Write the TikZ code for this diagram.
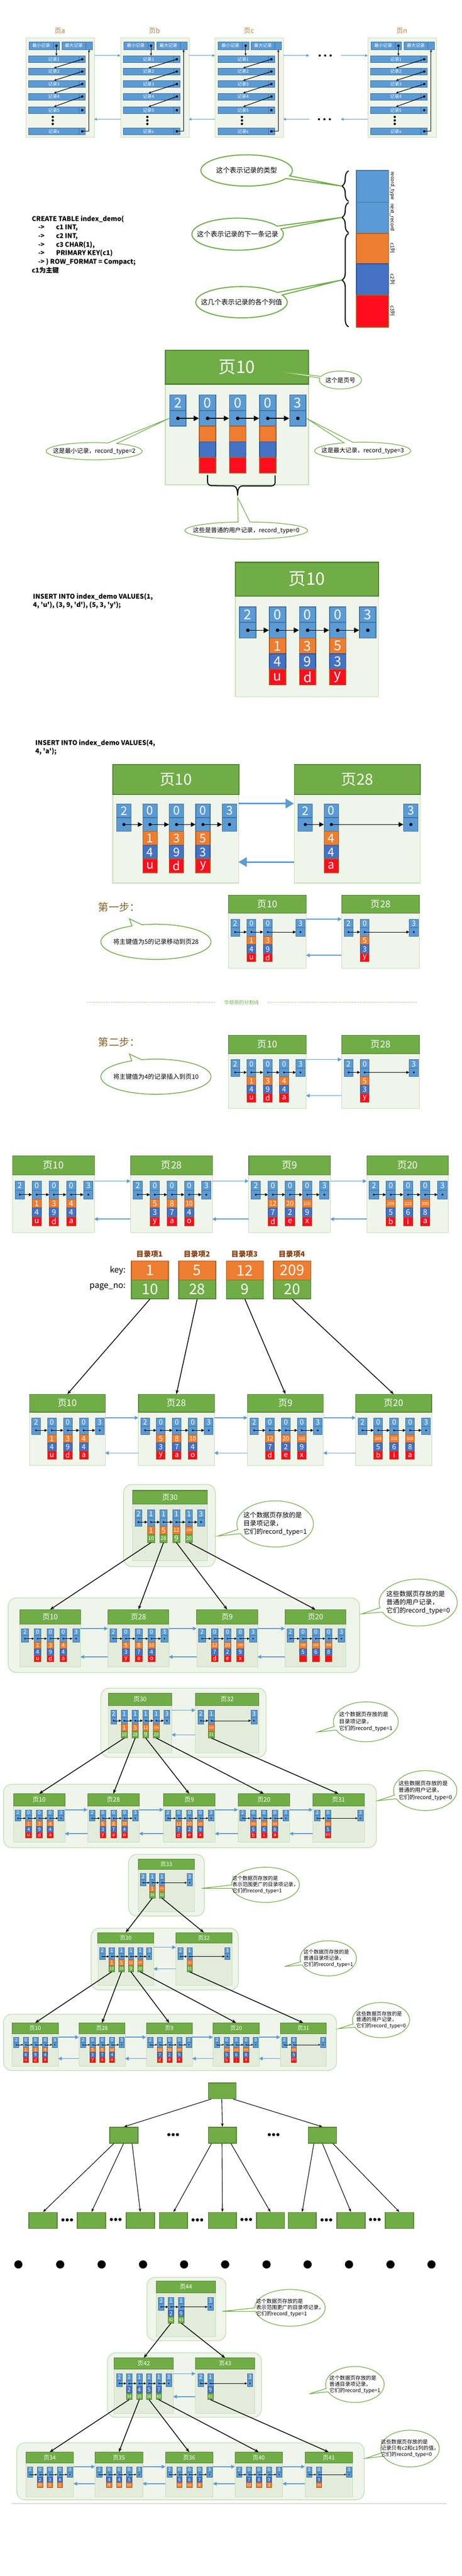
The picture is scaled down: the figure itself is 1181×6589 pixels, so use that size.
\documentclass[tikz,border=0pt]{standalone}
\usepackage{fontspec}
\setmainfont{Noto Sans CJK SC}
\usepackage{graphicx}
\usetikzlibrary{arrows.meta}
\usetikzlibrary{calc}
\usetikzlibrary{shapes.geometric, shapes.callouts}
\usetikzlibrary{decorations.pathreplacing}

\definecolor{pgreen}{HTML}{70AD47}
\definecolor{pgreendark}{HTML}{548235}
\definecolor{pbody}{HTML}{EFF5EA}
\definecolor{pbodyin}{HTML}{E3ECDB}
\definecolor{pborder}{HTML}{C5DFB4}
\definecolor{lblue}{HTML}{5B9BD5}
\definecolor{lbluedark}{HTML}{41719C}
\definecolor{orng}{HTML}{ED7D31}
\definecolor{orngdark}{HTML}{AE5A21}
\definecolor{dblue}{HTML}{4472C4}
\definecolor{dbluedark}{HTML}{2F528F}
\definecolor{rred}{HTML}{FF0D1D}
\definecolor{titlebrown}{HTML}{B07F45}
\definecolor{stepbrown}{HTML}{85642A}
\definecolor{dirbrown}{HTML}{843C0C}

\newsavebox{\cellbox}
\newcommand{\cellmax}{24pt}

\tikzset{
every picture/.style={line width=0.8pt, >=stealth},
%%%%%%%%%%  page styles
pagehead/.style={fill=pgreen, draw=pgreendark, text=white, inner sep=0,
                 minimum width=274.5pt, font=\fontsize{33}{33}\selectfont},
pagebody/.style={fill=pbody, draw=pborder, inner sep=0, minimum width=274.5pt},
inbox/.style={pagebody/.append style={fill=pbodyin}},
container/.style={fill=pbody, draw=pborder, line width=1.4pt, rounded corners=16pt},
smalltitle/.style={pagehead/.append style={font=\fontsize{27}{27}\selectfont}},
%%%%%%%%%%  record cells
cell/.style={anchor=north west, inner sep=0, minimum width=31.5pt, minimum height=30pt,
             text=white, font=\fontsize{26}{26}\selectfont, line width=1.6pt*\pgsc,
             execute at begin node={\setbox\cellbox=\hbox\bgroup},
             execute at end node={\egroup\ifdim\wd\cellbox>\cellmax
               \resizebox{\cellmax}{!}{\usebox\cellbox}\else\usebox\cellbox\fi}},
cA/.style={cell, fill=lblue, draw=lbluedark},
cO/.style={cell, fill=orng, draw=orngdark},
cB/.style={cell, fill=dblue, draw=dbluedark},
cR/.style={cell, fill=rred, draw=orngdark},
cG/.style={cell, fill=pgreen, draw=pgreendark},
narrow/.code={\tikzset{cell/.append style={minimum width=26pt}}\def\cellmax{21pt}},
ybot/.store in=\ybot,
leaf/.style={d1/.style=cO, d2/.style=cB, d3/.style=cR, ybot=198},
leafb/.style={d1/.style=cB, d2/.style=cO, ybot=159},
dir/.style={d1/.style=cO, d2/.style=cG, ybot=170, narrow, smalltitle},
dirb/.style={d1/.style=cB, d2/.style=cG, ybot=170, narrow, smalltitle},
ptr/.style={line width=\plw pt, -{Triangle[length=\ptl pt, width=\ptl pt]}},
%%%%%%%%%%  links between pages
plink/.style={draw=lblue, line width=1.5pt, -{Triangle[length=7pt, width=7pt]}},
plinkbig/.style={draw=lblue, line width=3pt, -{Triangle[length=16pt, width=18pt]}},
plinkthin/.style={draw=lblue, line width=1.1pt, -{Triangle[length=5pt, width=5pt]}},
treeln/.style={line width=1.5pt, -{Stealth[length=8pt, width=6pt]}},
treelnthin/.style={line width=1.1pt, -{Stealth[length=7pt, width=5pt]}},
%%%%%%%%%%  first picture (pages a..n)
pagelabel/.style={text=titlebrown, inner sep=0, font=\fontsize{13}{13}\selectfont},
recframe/.style={fill=pbody, draw=pborder, line width=0.8pt, anchor=north west,
                 minimum width=131.25pt, minimum height=190.5pt, inner sep=0},
recbox/.style={fill=lblue, draw=lbluedark, line width=0.6pt, anchor=north west, inner sep=0,
               minimum height=12.75pt, text=white, font=\fontsize{8.5}{8.5}\selectfont},
recarrow/.style={line width=1.1pt, -{Stealth[length=5pt, width=4pt]}},
%%%%%%%%%%  texts, callouts
sqltext/.style={anchor=north west, align=left, inner sep=0,
                font=\bfseries\fontsize{12.5}{16.5}\selectfont},
bubble/.style={ellipse callout, draw=pgreen, fill=white, line width=1.2pt, inner sep=0,
               callout pointer arc=11},
bubbletext/.style={align=left, inner sep=0},
bracestyle/.style={decorate, decoration={brace, amplitude=#1}, line width=2pt},
bracestyle/.default=13pt,
barcell/.style={anchor=north west, inner sep=0, minimum width=61.5pt, line width=1.6pt},
steptext/.style={text=stepbrown, inner sep=0, font=\fontsize{20}{20}\selectfont},
dirlabel/.style={text=dirbrown, inner sep=0, font=\bfseries\fontsize{14}{14}\selectfont},
keybox/.style={fill=orng, draw=orngdark, line width=1.5pt, anchor=north west, inner sep=0,
               minimum width=71.25pt, minimum height=36.75pt, text=white,
               font=\fontsize{28}{28}\selectfont},
nobox/.style={keybox, fill=pgreen, draw=pgreendark, minimum height=36pt},
absbox/.style={fill=pgreen, draw=pgreendark, line width=1.5pt, anchor=north west,
               inner sep=0, minimum width=54pt, minimum height=30.75pt}
}

%% a page with a header and a row of records
%% #1 name, #2 x, #3 y, #4 scale, #5 title, #6 header height, #7 kind, #8 columns
\newcommand{\pagebox}[8]{%
\begin{scope}[shift={(#2,#3)}, scale=#4, transform shape, #7]
  \def\pgsc{#4}
  \pgfmathsetmacro\plw{1.5*#4}
  \pgfmathsetmacro\ptl{10*#4}
  \pgfmathsetmacro\rowy{#6+28}
  \node[pagebody, anchor=north west, minimum height={(344-#6)*0.75pt},
        line width=1.6pt*\pgsc] (#1) at (0,#6) {};
  \node[pagehead, anchor=north west, minimum height={#6*0.75pt},
        line width=2.2pt*\pgsc] (#1-h) at (0,0) {#5};
  \edef\reclist{#8}
  \foreach \cx/\cn/\va/\vb/\vc [count=\i] in \reclist {
    \node[cA] (#1-n\i) at (\cx,\rowy) {\cn};
    \node[cA] (#1-p\i) at (\cx,\rowy+40) {};
    \fill (#1-p\i.center) circle (4.5);
    \if-\va\else\node[d1] (#1-d\i-1) at (\cx,\rowy+80) {\va};\fi
    \if-\vb\else\node[d2] (#1-d\i-2) at (\cx,\rowy+120) {\vb};\fi
    \if-\vc\else\node[d3] (#1-d\i-3) at (\cx,\rowy+160) {\vc};\fi
    \ifnum\i>1
      \pgfmathtruncatemacro\j{\i-1}
      \draw[ptr] (#1-p\j.center) -- (#1-p\i.west);
    \fi
  }
  \coordinate (#1-la) at (0,\rowy);
  \coordinate (#1-ra) at (366,\rowy);
  \coordinate (#1-lb) at (0,#6+\ybot);
  \coordinate (#1-rb) at (366,#6+\ybot);
\end{scope}}

%% a page of the first picture: #1 name, #2 x, #3 label
\newcommand{\recpage}[3]{%
  \node[pagelabel] (#1-t) at (#2+87,79) {#3};
  \node[recframe] (#1) at (#2,96) {};
  \node[recbox, minimum width=46.5pt, minimum height=14.25pt] (#1-m) at (#2+8,107) {最小记录};
  \node[recbox, minimum width=12pt, minimum height=14.25pt] (#1-ms) at (#2+70,107) {};
  \node[recbox, minimum width=45.75pt, minimum height=14.25pt] (#1-M) at (#2+92,107) {最大记录};
  \node[recbox, minimum width=12.75pt, minimum height=14.25pt] (#1-Ms) at (#2+153,107) {};
  \foreach \ry/\rl [count=\i] in {142.6/记录1, 174/记录2, 206/记录3, 238/记录4, 273/记录5, 327/记录x} {
    \node[recbox, minimum width=96.75pt] (#1-r\i) at (#2+7,\ry) {\rl};
    \node[recbox, minimum width=12pt] (#1-s\i) at (#2+136,\ry) {};
    \fill (#1-s\i.center) circle (3);
  }
  \fill (#1-ms.center) circle (3);
  \draw[recarrow] (#1-ms.center) -- (#1-ms.center |- #1-r1.north);
  \foreach \i in {1,...,4} {
    \pgfmathtruncatemacro\j{\i+1}
    \draw[recarrow] (#1-s\i.center) -- (#1-r\j.north);
  }
  \draw[recarrow] (#1-s6.center) -| (#1-Ms.south);
  \foreach \ry in {299,308,317} \fill (#2+69,\ry) circle (3);
  \coordinate (#1-la) at (#2,142);
  \coordinate (#1-ra) at (#2+175,142);
  \coordinate (#1-lb) at (#2,305);
  \coordinate (#1-rb) at (#2+175,305);
}

%% callout: #1 name, #2 #3 centre, #4 #5 size, #6 pointer, #7 font, #8 style, #9 text
\newcommand{\bubble}[9]{%
  \node[bubble, minimum width={#4*0.75pt}, minimum height={#5*0.75pt},
        callout absolute pointer={#6}, #8] (#1) at (#2,#3) {};
  \node[bubbletext, font=#7] (#1-t) at (#1.center) {#9};
}

\begin{document}
\begin{tikzpicture}[x=0.75pt, y=-0.75pt]
\fill[white] (0,0) rectangle (1181,6589);
\useasboundingbox (0,0) rectangle (1181,6589);
\def\recA{11/2/-/-/-, 87/0/1/4/u, 164/0/3/9/d, 241/0/4/4/a, 318/3/-/-/-}
\def\recB{11/2/-/-/-, 87/0/5/3/y, 164/0/8/7/a, 241/0/10/4/o, 318/3/-/-/-}
\def\recC{11/2/-/-/-, 87/0/12/7/d, 164/0/20/2/e, 241/0/100/9/x, 318/3/-/-/-}
\def\recD{11/2/-/-/-, 87/0/209/5/b, 164/0/220/6/i, 241/0/300/8/a, 318/3/-/-/-}
\def\recE{11/2/-/-/-, 87/0/209/5/\relax, 164/0/220/6/\relax, 241/0/300/8/\relax, 318/3/-/-/-}
\def\recF{11/2/-/-/-, 87/0/320/5/m, 318/3/-/-/-}
%%%%%%%%%%%%%%%%%%%%%%%%%%%%%%%%%%%%%%%%%%%%%%%%%%%%%%%
%% pages a, b, c, ..., n
\recpage{pa}{66}{页a}
\recpage{pb}{308}{页b}
\recpage{pc}{550}{页c}
\recpage{pn}{941}{页n}
\coordinate (gapr1) at (791,142);
\coordinate (gapr2) at (872,142);
\coordinate (gapl1) at (792,305);
\coordinate (gapl2) at (872,305);
\draw[plinkthin] (pa-ra) -- (pb-la);
\draw[plinkthin] (pb-ra) -- (pc-la);
\draw[plinkthin] (pc-ra) -- (gapr1);
\draw[plinkthin] (gapr2) -- (pn-la);
\draw[plinkthin] (pb-lb) -- (pa-rb);
\draw[plinkthin] (pc-lb) -- (pb-rb);
\draw[plinkthin] (gapl1) -- (pc-rb);
\draw[plinkthin] (pn-lb) -- (gapl2);
\foreach \x in {818,832,846} \fill (\x,142) circle (2.8);
\foreach \x in {816,830,844} \fill (\x,305) circle (2.8);
%%%%%%%%%%%%%%%%%%%%%%%%%%%%%%%%%%%%%%%%%%%%%%%%%%%%%%%
%% one record
\node[barcell, fill=lblue, draw=lbluedark, minimum height=60.75pt] (rb1) at (911,435) {};
\node[barcell, fill=lblue, draw=lbluedark, minimum height=60pt] (rb2) at (911,516) {};
\node[barcell, fill=orng, draw=orngdark, minimum height=58.5pt] (rb3) at (911,596) {};
\node[barcell, fill=dblue, draw=dbluedark, minimum height=60pt] (rb4) at (911,674) {};
\node[barcell, fill=rred, draw=orngdark, minimum height=61.5pt] (rb5) at (911,754) {};
\foreach \t/\y [count=\i] in {record\_type/475, next\_record/556, c1列/634, c2列/714, c3列/795}
  \node[rotate=-90, inner sep=0, font=\fontsize{9.5}{9.5}\selectfont] (rl\i) at (1004,\y) {\t};
\draw[bracestyle] (892,515) -- (892,437);
\draw[bracestyle] (892,595) -- (892,518);
\draw[bracestyle] (892,836) -- (892,597);
\coordinate (br1) at (875,476);
\coordinate (br2) at (875,556);
\coordinate (br3) at (875,716);
\bubble{cb1}{631}{436}{234}{80}{(br1)}{\fontsize{13}{13}\selectfont}{line width=2pt}{这个表示记录的类型}
\bubble{cb2}{608}{599}{234}{82}{(br2)}{\fontsize{13}{13}\selectfont}{line width=2pt}{这个表示记录的下一条记录}
\bubble{cb3}{618}{773}{234}{80}{(br3)}{\fontsize{13}{13}\selectfont}{line width=2pt}{这几个表示记录的各个列值}
\node[sqltext] (sql) at (81,551) {CREATE TABLE index\_demo(\\
\hspace*{12pt}->\hspace*{22pt}c1 INT,\\
\hspace*{12pt}->\hspace*{22pt}c2 INT,\\
\hspace*{12pt}->\hspace*{22pt}c3 CHAR(1),\\
\hspace*{12pt}->\hspace*{22pt}PRIMARY KEY(c1)\\
\hspace*{12pt}-> ) ROW\_FORMAT = Compact;\\
c1为主键};
%%%%%%%%%%%%%%%%%%%%%%%%%%%%%%%%%%%%%%%%%%%%%%%%%%%%%%%
%% page 10, empty
\pagebox{a10}{422}{895}{1}{页10}{86}{leaf}{11/2/-/-/-, 87/0/\relax/\relax/\relax, 164/0/\relax/\relax/\relax, 241/0/\relax/\relax/\relax, 318/3/-/-/-}
%% bracket under the user records
\draw[line width=2pt] (a10-d2-3.south) ++(0,4) -- ++(0,18)
  to[out=-90,in=180] ++(10,9) -- (596,1243) to[out=0,in=90] (608,1268)
  to[out=90,in=180] (620,1243) -- (694,1243) to[out=0,in=-90] ++(10,-9)
  -- ++(0,-18);
\coordinate (ubr) at (608,1272);
\bubble{cpg}{871}{972}{108}{46}{($(a10-h.center)+(50,3)$)}{\fontsize{11.5}{11.5}\selectfont}{}{这个是页号}
\bubble{cmin}{241}{1154}{246}{44}{(a10-p1.west)}{\fontsize{11.5}{11.5}\selectfont}{}{这是最小记录，record\_type=2}
\bubble{cmax}{928}{1153}{246}{44}{(a10-p5.east)}{\fontsize{11.5}{11.5}\selectfont}{}{这是最大记录，record\_type=3}
\bubble{cusr}{630}{1357}{314}{44}{(ubr)}{\fontsize{11.5}{11.5}\selectfont}{}{这些是普通的用户记录，record\_type=0}
%%%%%%%%%%%%%%%%%%%%%%%%%%%%%%%%%%%%%%%%%%%%%%%%%%%%%%%
%% insert three records
\node[sqltext] (ins1) at (84,1517) {INSERT INTO index\_demo VALUES(1,\\
4, \textquotesingle u\textquotesingle), (3, 9, \textquotesingle d\textquotesingle), (5, 3, \textquotesingle y\textquotesingle);};
\pagebox{b10}{601}{1437}{1}{页10}{86}{leaf}{11/2/-/-/-, 87/0/1/4/u, 164/0/3/9/d, 241/0/5/3/y, 318/3/-/-/-}
%%%%%%%%%%%%%%%%%%%%%%%%%%%%%%%%%%%%%%%%%%%%%%%%%%%%%%%
%% insert one more record, page 28
\node[sqltext] (ins2) at (90,1891) {INSERT INTO index\_demo VALUES(4,\\
4, \textquotesingle a\textquotesingle);};
\pagebox{c10}{288}{1955}{0.88}{页10}{86}{leaf}{11/2/-/-/-, 87/0/1/4/u, 164/0/3/9/d, 241/0/5/3/y, 318/3/-/-/-}
\pagebox{c28}{752}{1955}{0.88}{页28}{86}{leaf}{11/2/-/-/-, 87/0/4/4/a, 318/3/-/-/-}
\draw[plinkbig] (c10-ra) -- (c28-la);
\draw[plinkbig] (c28-lb) -- (c10-rb);
%%%%%%%%%%%%%%%%%%%%%%%%%%%%%%%%%%%%%%%%%%%%%%%%%%%%%%%
%% step one
\node[steptext] (st1) at (305,2320) {第一步：};
\bubble{cs1}{399}{2409}{282}{90}{(331,2350)}{\fontsize{12}{12}\selectfont}{line width=1.5pt}{将主键值为5的记录移动到页28}
\pagebox{s10}{584}{2289}{0.544}{页10}{86}{leaf}{11/2/-/-/-, 87/0/1/4/u, 164/0/3/9/d, 318/3/-/-/-}
\pagebox{s28}{874}{2289}{0.544}{页28}{86}{leaf}{11/2/-/-/-, 87/0/5/3/y, 318/3/-/-/-}
\draw[plink] (s10-ra) -- (s28-la);
\draw[plink] (s28-lb) -- (s10-rb);
%% divider
\node[text=pgreen, inner sep=0, font=\fontsize{9.5}{9.5}\selectfont] (divt) at (618,2564) {华丽丽的分割线};
\draw[pgreen, dotted, line width=1pt] (224,2564) -- (552,2564);
\draw[pgreen, dotted, line width=1pt] (685,2564) -- (1066,2564);
%%%%%%%%%%%%%%%%%%%%%%%%%%%%%%%%%%%%%%%%%%%%%%%%%%%%%%%
%% step two
\node[steptext] (st2) at (305,2665) {第二步：};
\bubble{cs2}{399}{2754}{282}{90}{(331,2696)}{\fontsize{12}{12}\selectfont}{line width=1.5pt}{将主键值为4的记录插入到页10}
\pagebox{t10}{584}{2648}{0.544}{页10}{86}{leaf}{\recA}
\pagebox{t28}{874}{2648}{0.544}{页28}{86}{leaf}{11/2/-/-/-, 87/0/5/3/y, 318/3/-/-/-}
\draw[plink] (t10-ra) -- (t28-la);
\draw[plink] (t28-lb) -- (t10-rb);
%%%%%%%%%%%%%%%%%%%%%%%%%%%%%%%%%%%%%%%%%%%%%%%%%%%%%%%
%% four pages
\pagebox{u10}{32}{2956}{0.571}{页10}{86}{leaf}{\recA}
\pagebox{u28}{334}{2956}{0.571}{页28}{86}{leaf}{\recB}
\pagebox{u9}{636}{2956}{0.571}{页9}{86}{leaf}{\recC}
\pagebox{u20}{938}{2956}{0.571}{页20}{86}{leaf}{\recD}
\foreach \p/\q in {u10/u28, u28/u9, u9/u20} {
  \draw[plink] (\p-ra) -- (\q-la);
  \draw[plink] (\q-lb) -- (\p-rb);
}
%%%%%%%%%%%%%%%%%%%%%%%%%%%%%%%%%%%%%%%%%%%%%%%%%%%%%%%
%% directory entries
\foreach \x/\k/\g [count=\i] in {335/1/10, 456/5/28, 578/12/9, 699/209/20} {
  \node[dirlabel] (dirl\i) at (\x+47.5,3208) {目录项\i};
  \node[keybox] (dk\i) at (\x,3224) {\k};
  \node[nobox] (dn\i) at (\x,3273) {\g};
}
\node[anchor=east, inner sep=0, font=\fontsize{16}{16}\selectfont] (keyl) at (322,3250) {key:};
\node[anchor=east, inner sep=0, font=\fontsize{16}{16}\selectfont] (pnol) at (322,3292) {page\_no:};
\pagebox{v10}{75}{3566}{0.53}{页10}{86}{leaf}{\recA}
\pagebox{v28}{354}{3566}{0.53}{页28}{86}{leaf}{\recB}
\pagebox{v9}{633}{3566}{0.53}{页9}{86}{leaf}{\recC}
\pagebox{v20}{910}{3566}{0.53}{页20}{86}{leaf}{\recD}
\foreach \p/\q in {v10/v28, v28/v9, v9/v20} {
  \draw[plink] (\p-ra) -- (\q-la);
  \draw[plink] (\q-lb) -- (\p-rb);
}
\foreach \i/\p in {1/v10, 2/v28, 3/v9, 4/v20} \draw[treeln] (dn\i.south) -- (\p-h.north);
%%%%%%%%%%%%%%%%%%%%%%%%%%%%%%%%%%%%%%%%%%%%%%%%%%%%%%%
%% page 30 over four pages
\draw[container] (316,3797) rectangle (551,4007);
\pagebox{w30}{339}{3812}{0.522}{页30}{67}{dir,inbox}{11.5/2/-/-/-, 73/1/1/10/-, 134/1/5/28/-, 197/1/12/9/-, 259/1/209/20/-, 318/3/-/-/-}
\draw[container] (21,4087) rectangle (920,4278);
\pagebox{x10}{50}{4117}{0.426}{页10}{86}{leaf,inbox}{\recA}
\pagebox{x28}{276}{4117}{0.426}{页28}{86}{leaf,inbox}{\recB}
\pagebox{x9}{503}{4117}{0.426}{页9}{86}{leaf,inbox}{\recC}
\pagebox{x20}{729}{4117}{0.426}{页20}{86}{leaf,inbox}{\recE}
\foreach \p/\q in {x10/x28, x28/x9, x9/x20} {
  \draw[plink] (\p-ra) -- (\q-la);
  \draw[plink] (\q-lb) -- (\p-rb);
}
\foreach \c/\p in {2/x10, 3/x28, 4/x9, 5/x20} \draw[treeln] (w30-d\c-2.south) -- (\p-h.north);
\bubble{cw1}{704}{3898}{196}{118}{(557,3929)}{\fontsize{12.5}{15.75}\selectfont}{}{这个数据页存放的是\\目录项记录，\\它们的record\_type=1}
\bubble{cw2}{1070}{4099}{200}{120}{(925,4128)}{\fontsize{12.5}{15.75}\selectfont}{}{这些数据页存放的是\\普通的用户记录，\\它们的record\_type=0}
%%%%%%%%%%%%%%%%%%%%%%%%%%%%%%%%%%%%%%%%%%%%%%%%%%%%%%%
%% pages 30 and 32 over five pages
\draw[container] (258,4318) rectangle (681,4495);
\pagebox{y30}{277}{4331}{0.443}{页30}{70}{dir,inbox}{13.5/2/-/-/-, 74.5/1/1/10/-, 137.7/1/5/28/-, 198.6/1/12/9/-, 259.6/1/209/20/-, 320.5/3/-/-/-}
\pagebox{y32}{500}{4331}{0.443}{页32}{70}{dir,inbox}{13.5/2/-/-/-, 74.5/1/320/31/-, 320.5/3/-/-/-}
\draw[plink] (y30-ra) -- (y32-la);
\draw[plink] (y32-lb) -- (y30-rb);
\draw[container] (9,4564) rectangle (963,4726);
\pagebox{z10}{34}{4588}{0.36}{页10}{86}{leaf,inbox}{\recA}
\pagebox{z28}{224}{4588}{0.36}{页28}{86}{leaf,inbox}{\recB}
\pagebox{z9}{418}{4588}{0.36}{页9}{86}{leaf,inbox}{\recC}
\pagebox{z20}{609}{4588}{0.36}{页20}{86}{leaf,inbox}{\recD}
\pagebox{z31}{800}{4588}{0.36}{页31}{86}{leaf,inbox}{\recF}
\foreach \p/\q in {z10/z28, z28/z9, z9/z20, z20/z31} {
  \draw[plink] (\p-ra) -- (\q-la);
  \draw[plink] (\q-lb) -- (\p-rb);
}
\foreach \c/\p in {2/z10, 3/z28, 4/z9, 5/z20} \draw[treeln] (y30-d\c-2.south) -- (\p-h.north);
\draw[treeln] (y32-d2-2.south) -- (z31-h.north);
\bubble{cy1}{936}{4404}{166}{102}{(813,4430)}{\fontsize{10.5}{13.5}\selectfont}{}{这个数据页存放的是\\目录项记录，\\它们的record\_type=1}
\bubble{cy2}{1088}{4580}{162}{102}{(966,4606)}{\fontsize{10.5}{13.5}\selectfont}{}{这些数据页存放的是\\普通的用户记录，\\它们的record\_type=0}
%%%%%%%%%%%%%%%%%%%%%%%%%%%%%%%%%%%%%%%%%%%%%%%%%%%%%%%
%% three levels: page 33
\draw[container] (329,4743) rectangle (523,4901);
\pagebox{q33}{354}{4755}{0.39}{页33}{67}{dir,inbox}{13/2/-/-/-, 74/1/1/30/-, 136/1/320/32/-, 318/3/-/-/-}
\draw[container] (233,4932) rectangle (610,5090);
\pagebox{m30}{250}{4943}{0.39}{页30}{69}{dir,inbox}{13/2/-/-/-, 74/1/1/10/-, 138/1/5/28/-, 200/1/12/9/-, 261/1/209/20/-, 320/3/-/-/-}
\pagebox{m32}{450}{4943}{0.39}{页32}{69}{dir,inbox}{13/2/-/-/-, 72/1/320/31/-, 320/3/-/-/-}
\draw[plink] (m30-ra) -- (m32-la);
\draw[plink] (m32-lb) -- (m30-rb);
\draw[container] (9,5152) rectangle (861,5296);
\pagebox{n10}{31}{5174}{0.322}{页10}{86}{leaf,inbox}{\recA}
\pagebox{n28}{202}{5174}{0.322}{页28}{86}{leaf,inbox}{\recB}
\pagebox{n9}{374}{5174}{0.322}{页9}{86}{leaf,inbox}{\recC}
\pagebox{n20}{545}{5174}{0.322}{页20}{86}{leaf,inbox}{\recD}
\pagebox{n31}{717}{5174}{0.322}{页31}{86}{leaf,inbox}{\recF}
\foreach \p/\q in {n10/n28, n28/n9, n9/n20, n20/n31} {
  \draw[plink] (\p-ra) -- (\q-la);
  \draw[plink] (\q-lb) -- (\p-rb);
}
\draw[treeln] (q33-d2-2.south) -- (m30-h.north);
\draw[treeln] (q33-d3-2.south) -- (m32-h.north);
\foreach \c/\p in {2/n10, 3/n28, 4/n9, 5/n20} \draw[treeln] (m30-d\c-2.south) -- (\p-h.north);
\draw[treeln] (m32-d2-2.south) -- (n31-h.north);
\bubble{cq1}{679}{4821}{174}{90}{(516,4830)}{\fontsize{9.75}{11.8}\selectfont}{}{这个数据页存放的是\\表示范围更广的目录项记录，\\它们的record\_type=1}
\bubble{cq2}{840}{5009}{144}{90}{(728,5030)}{\fontsize{9.75}{11.8}\selectfont}{}{这个数据页存放的是\\普通目录项记录，\\它们的record\_type=1}
\bubble{cq3}{975}{5167}{146}{90}{(866,5189)}{\fontsize{9.75}{11.8}\selectfont}{}{这些数据页存放的是\\普通的用户记录，\\它们的record\_type=0}
%%%%%%%%%%%%%%%%%%%%%%%%%%%%%%%%%%%%%%%%%%%%%%%%%%%%%%%
%% the general tree
\node[absbox, minimum width=53.25pt, minimum height=30pt] (rt) at (532,5327) {};
\node[absbox] (md1) at (280,5440) {};
\node[absbox] (md2) at (532,5440) {};
\node[absbox] (md3) at (788,5440) {};
\foreach \x [count=\i] in {73,197,322,407,532,655,736,861,985}
  \node[absbox] (lf\i) at (\x,5658) {};
\foreach \d/\c in {-28/1, -1/2, 28/3} \draw[treelnthin] ($(rt.south)+(\d,0)$) -- (md\c.north);
\foreach \d/\c in {-26/1, -1/2, 21/3} \draw[treelnthin] ($(md1.south)+(\d,0)$) -- (lf\c.north);
\foreach \d/\c in {-28/4, -1/5, 22/6} \draw[treelnthin] ($(md2.south)+(\d,0)$) -- (lf\c.north);
\foreach \d/\c in {-22/7, 0/8, 27/9} \draw[treelnthin] ($(md3.south)+(\d,0)$) -- (lf\c.north);
\foreach \x/\y in {443/5460, 700/5460, 172/5678, 296/5677, 505/5678, 630/5677, 835/5678, 959/5677}
  \foreach \d in {-11,0,11} \fill (\x+\d,\y) circle (4);
\foreach \x in {47,154,260,366,471,576,682,787,893,999,1104} \fill (\x,5792) circle (10.5);
%%%%%%%%%%%%%%%%%%%%%%%%%%%%%%%%%%%%%%%%%%%%%%%%%%%%%%%
%% index on c2
\draw[container] (376,5825) rectangle (578,5987);
\pagebox{e44}{400}{5834}{0.413}{页44}{73}{dirb,inbox}{12/2/-/-/-, 73/1/2/42/-, 136/1/9/43/-, 317/3/-/-/-}
\draw[container] (275,6018) rectangle (669,6183);
\pagebox{f42}{292}{6031}{0.413}{页42}{70}{dirb,inbox}{14.5/2/-/-/-, 75/1/2/34/-, 138/1/4/35/-, 198.5/1/5/36/-, 259/1/7/40/-, 320/3/-/-/-}
\pagebox{f43}{500}{6031}{0.413}{页43}{70}{dirb,inbox}{14.5/2/-/-/-, 75/1/9/41/-, 320/3/-/-/-}
\draw[plink] (f42-ra) -- (f43-la);
\draw[plink] (f43-lb) -- (f42-rb);
\draw[container] (43,6248) rectangle (932,6394);
\pagebox{h34}{66}{6272}{0.333}{页34}{84}{leafb,inbox}{11/2/-/-/-, 87/0/2/20/-, 164/0/3/5/-, 241/0/4/1/-, 318/3/-/-/-}
\pagebox{h35}{243}{6272}{0.333}{页35}{84}{leafb,inbox}{11/2/-/-/-, 87/0/4/4/-, 164/0/4/10/-, 241/0/5/209/-, 318/3/-/-/-}
\pagebox{h36}{423}{6272}{0.333}{页36}{84}{leafb,inbox}{11/2/-/-/-, 87/0/5/320/-, 164/0/6/220/-, 241/0/7/8/-, 318/3/-/-/-}
\pagebox{h40}{601}{6272}{0.333}{页40}{84}{leafb,inbox}{11/2/-/-/-, 87/0/7/12/-, 164/0/8/300/-, 241/0/9/3/-, 318/3/-/-/-}
\pagebox{h41}{780}{6272}{0.333}{页41}{84}{leafb,inbox}{11/2/-/-/-, 87/0/9/100/-, 318/3/-/-/-}
\foreach \p/\q in {h34/h35, h35/h36, h36/h40, h40/h41} {
  \draw[plink] (\p-ra) -- (\q-la);
  \draw[plink] (\q-lb) -- (\p-rb);
}
\draw[treeln] (e44-d2-2.south) -- (f42-h.north);
\draw[treeln] (e44-d3-2.south) -- (f43-h.north);
\foreach \c/\p in {2/h34, 3/h35, 4/h36, 5/h40} \draw[treeln] (f42-d\c-2.south) -- (\p-h.north);
\draw[treeln] (f43-d2-2.south) -- (h41-h.north);
\bubble{ce1}{742}{5903}{180}{94}{(569,5912)}{\fontsize{10}{12}\selectfont}{}{这个数据页存放的是\\表示范围更广的目录项记录，\\它们的record\_type=1}
\bubble{ce2}{908}{6099}{150}{92}{(791,6123)}{\fontsize{10}{12}\selectfont}{}{这个数据页存放的是\\普通目录项记录，\\它们的record\_type=1}
\bubble{ce3}{1049}{6263}{150}{94}{(935,6288)}{\fontsize{10}{12}\selectfont}{}{这些数据页存放的是\\记录只有c2和c1列的值，\\它们的record\_type=0}
\draw[black!25, line width=0.8pt] (30,6404) -- (1142,6404);
\end{tikzpicture}
\end{document}
